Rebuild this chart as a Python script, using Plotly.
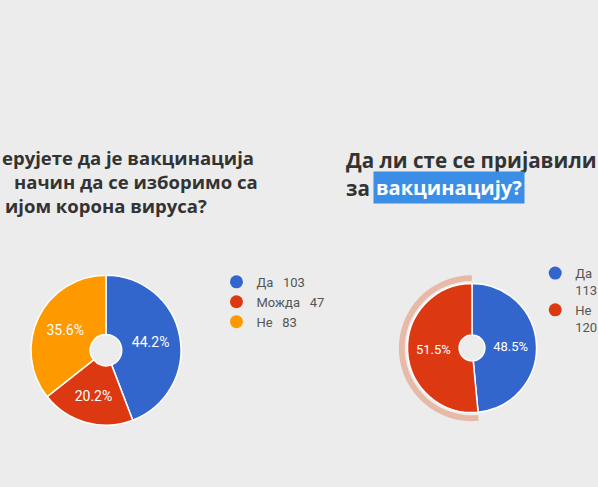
import plotly.graph_objects as go

# left chart: is vaccination the way to beat the pandemic
left_labels = ["Да", "Можда", "Не"]
left_counts = [103, 47, 83]
left_colors = ["#3366cc", "#dc3912", "#ff9900"]

# right chart: did you sign up for vaccination
right_labels = ["Да", "Не"]
right_counts = [113, 120]
right_colors = ["#3366cc", "#dc3912"]
highlighted = "Не"  # slice with the hover ring around it

left_title = ["ерујете да је вакцинација", "начин да се изборимо са", "ијом корона вируса?"]
right_title_top = "Да ли сте се пријавили"
right_title_start = "за"
right_title_marked = "вакцинацију?"

BG = "#ececec"
TITLE_FONT = dict(family="Open Sans", color="#333333")

fig = go.Figure()

# ring behind the highlighted slice, drawn first so the pie sits on top
ring_colors = ["#e7b9a7" if lab == highlighted else "rgba(0,0,0,0)" for lab in right_labels]
fig.add_trace(go.Pie(
    labels=right_labels, values=right_counts, sort=False, direction="clockwise",
    hole=0.92, marker=dict(colors=ring_colors, line=dict(width=0)),
    textinfo="none", hoverinfo="skip", showlegend=False,
    domain=dict(x=[0.667, 0.911], y=[0.135, 0.435]),
))

pie_text = dict(
    texttemplate="%{percent:.1%}", textposition="inside", insidetextorientation="horizontal",
    showlegend=False,
)

fig.add_trace(go.Pie(
    labels=left_labels, values=left_counts, sort=False, direction="clockwise", hole=0.21,
    marker=dict(colors=left_colors, line=dict(color="white", width=1.5)),
    textfont=dict(family="Roboto", size=14, color="white"),
    domain=dict(x=[0.0518, 0.3027], y=[0.127, 0.435]), **pie_text,
))
fig.add_trace(go.Pie(
    labels=right_labels, values=right_counts, sort=False, direction="clockwise", hole=0.2,
    marker=dict(colors=right_colors, line=dict(color="white", width=1.5)),
    textfont=dict(family="Roboto", size=13, color="white"),
    domain=dict(x=[0.6814, 0.8972], y=[0.153, 0.418]), **pie_text,
))

# legends with round markers: empty scatter traces, one per slice
for lab, val, col in zip(left_labels, left_counts, left_colors):
    fig.add_trace(go.Scatter(
        x=[None], y=[None], mode="markers", name=f"{lab}\u00a0\u00a0\u00a0{val}",
        marker=dict(color=col, size=13), legend="legend",
    ))
for lab, val, col in zip(right_labels, right_counts, right_colors):
    fig.add_trace(go.Scatter(
        x=[None], y=[None], mode="markers", name=f"{lab}<br>{val}",
        marker=dict(color=col, size=13), legend="legend2",
    ))

annotations = []
for i, (line, x) in enumerate(zip(left_title, [0.0, 0.02, 0.005])):
    annotations.append(dict(
        text=f"<b>{line}</b>", x=x, y=0.6776 - i * 0.0493, xref="paper", yref="paper",
        xanchor="left", yanchor="middle", showarrow=False, font=dict(size=18.5, **TITLE_FONT),
    ))
annotations.append(dict(
    text=f"<b>{right_title_top}</b>", x=0.576, y=0.671, xref="paper", yref="paper",
    xanchor="left", yanchor="middle", showarrow=False, font=dict(size=20.6, **TITLE_FONT),
))
annotations.append(dict(
    text=f"<b>{right_title_start}</b>", x=0.576, y=0.614, xref="paper", yref="paper",
    xanchor="left", yanchor="middle", showarrow=False, font=dict(size=20.6, **TITLE_FONT),
))
annotations.append(dict(
    text=f"<b>{right_title_marked}</b>", x=0.624, y=0.614, xref="paper", yref="paper",
    xanchor="left", yanchor="middle", showarrow=False, bgcolor="#3a8ee6", borderpad=2,
    font=dict(size=20, family="Open Sans", color="white"),
))

legend_font = dict(family="Roboto", size=13, color="#555555")
fig.update_layout(
    width=598, height=487,
    # the right legend runs off the edge on purpose, so don't let it push the margins
    margin=dict(l=0, r=0, t=0, b=0, autoexpand=False),
    paper_bgcolor=BG, plot_bgcolor=BG,
    xaxis=dict(visible=False), yaxis=dict(visible=False),
    legend=dict(x=0.362, y=0.452, xanchor="left", yanchor="top", font=legend_font,
                bgcolor="rgba(0,0,0,0)", itemclick=False),
    legend2=dict(x=0.895, y=0.47, xanchor="left", yanchor="top", font=legend_font,
                 bgcolor="rgba(0,0,0,0)", valign="top", itemclick=False),
    annotations=annotations,
)

# keep the fixed 598x487 size and drop the page's default body margin
fig.write_html(
    "out.html",
    config={"responsive": False, "displayModeBar": False},
    post_script="document.body.style.margin = '0';",
)
